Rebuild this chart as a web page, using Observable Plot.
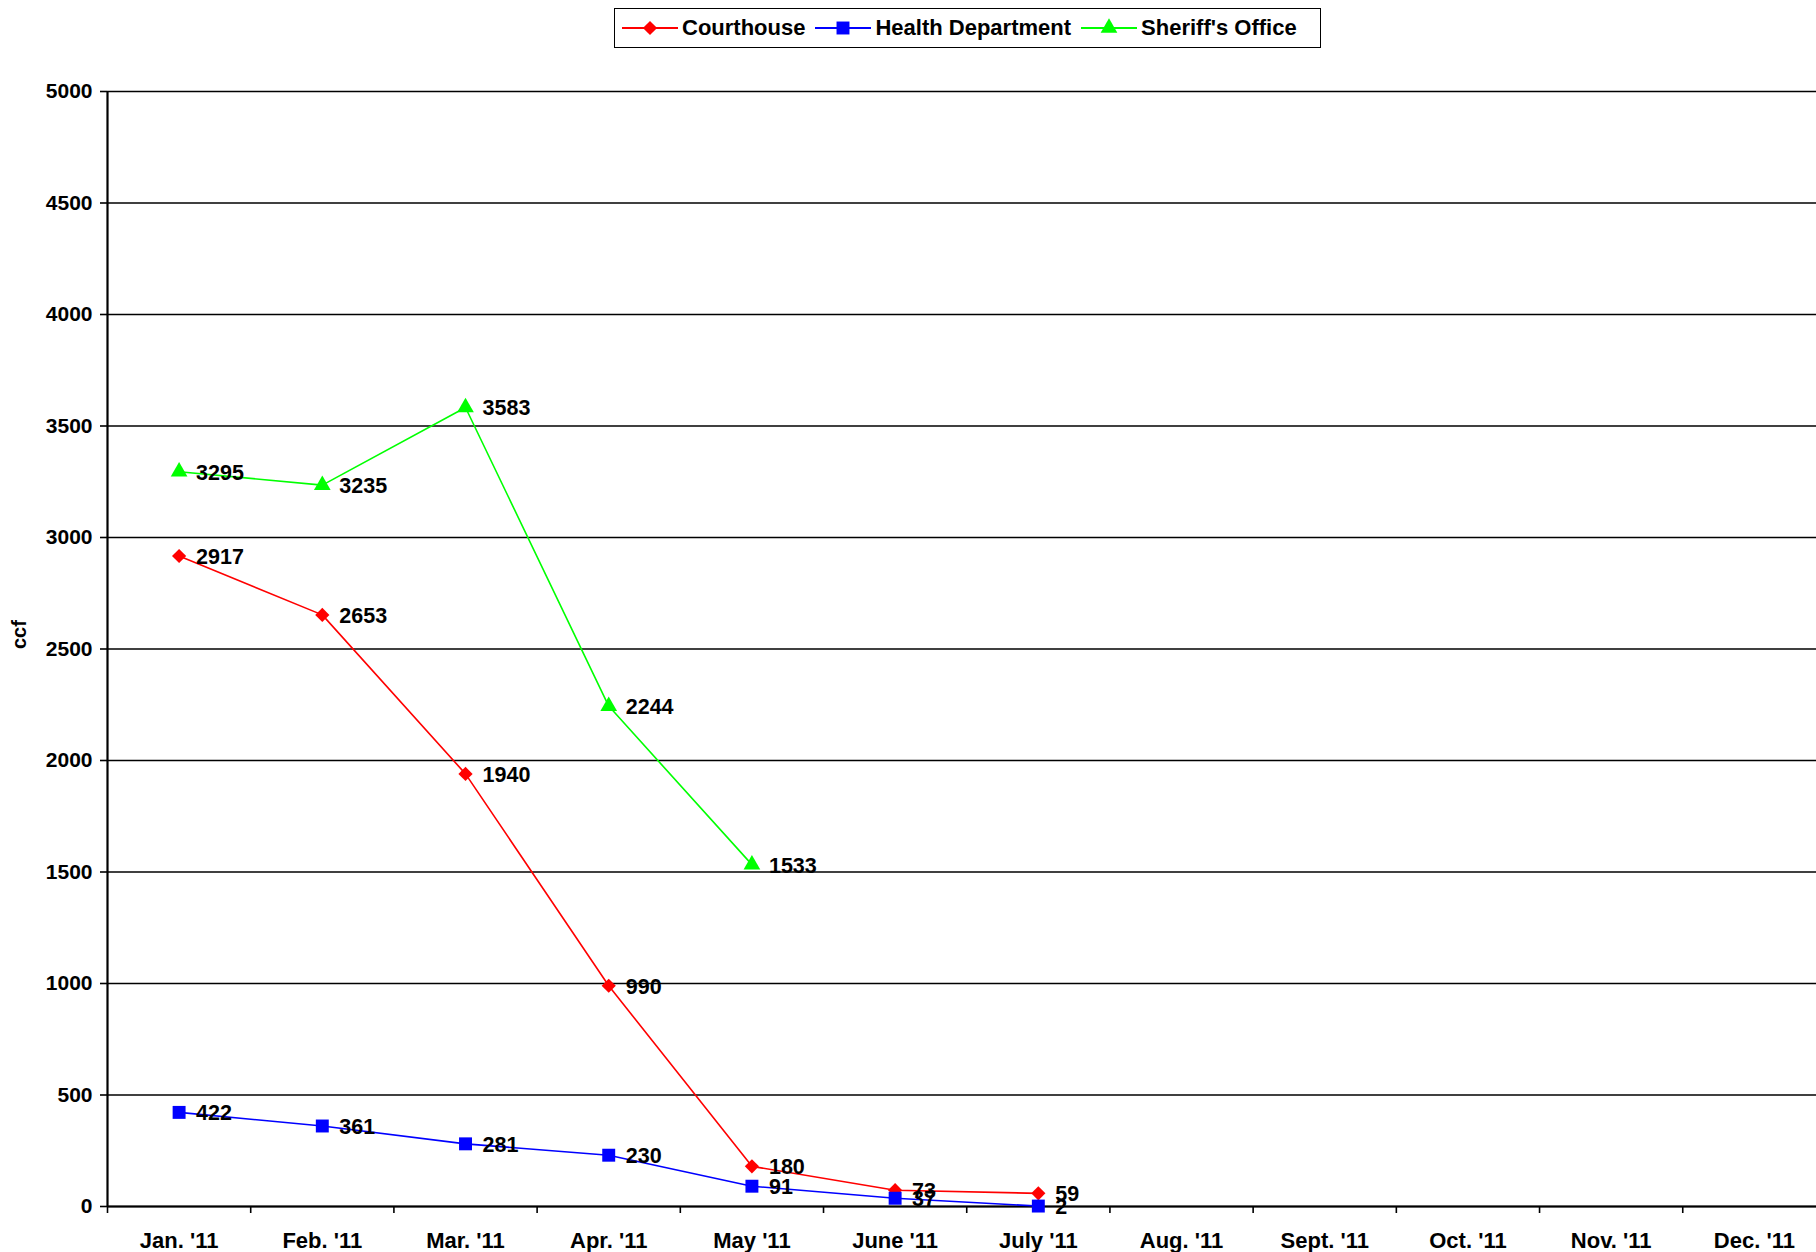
<!DOCTYPE html>
<html>
<head>
<meta charset="utf-8">
<script src="https://cdn.jsdelivr.net/npm/d3@7"></script>
<script src="https://cdn.jsdelivr.net/npm/@observablehq/plot@0.6"></script>
<style>
  html, body { margin: 0; padding: 0; background: #fff; }
  body { width: 1816px; height: 1252px; position: relative; overflow: hidden; font-family: "Liberation Sans", Arial, sans-serif; }
  #legend { position: absolute; left: 614px; top: 8px; width: 698px; height: 38px; border: 1.5px solid #000; display: flex; align-items: center; padding-left: 7px; box-sizing: content-box; }
  .item { display: flex; align-items: center; margin-right: 10px; }
  .item span { font-weight: bold; font-size: 22px; margin-left: 4px; color: #000; }
  #chart { position: absolute; left: 0; top: 55px; }
</style>
</head>
<body>
<div id="legend"></div>
<div id="chart"></div>
<script>
const months = ["Jan. '11", "Feb. '11", "Mar. '11", "Apr. '11", "May '11", "June '11", "July '11", "Aug. '11", "Sept. '11", "Oct. '11", "Nov. '11", "Dec. '11"];
const seriesNames = ["Courthouse", "Health Department", "Sheriff's Office"];
const courthouse = [2917, 2653, 1940, 990, 180, 73, 59];
const health = [422, 361, 281, 230, 91, 37, 2];
const sheriff = [3295, 3235, 3583, 2244, 1533];
const yTicks = [0, 500, 1000, 1500, 2000, 2500, 3000, 3500, 4000, 4500, 5000];
const colors = ["#ff0000", "#0000ff", "#00ff00"];
const symbols = ["diamond2", "square", "triangle"];
const symbolR = [6.4, 7.3, 6.2];

const toRows = (vals, s) => vals.map((v, i) => ({month: months[i], pos: i + 0.5, value: v, series: s}));
const rowsC = toRows(courthouse, seriesNames[0]);
const rowsH = toRows(health, seriesNames[1]);
const rowsS = toRows(sheriff, seriesNames[2]);
const allRows = [rowsC, rowsH, rowsS];
const xMax = 11.934; // the last band runs a little past the right edge
const boundaries = months.map((m, i) => i);
const centers = months.map((m, i) => i + 0.5);

const font = "'Liberation Sans', Arial, sans-serif";

const marks = [
  Plot.ruleY(yTicks, {stroke: "#000", strokeWidth: 1.4}),
  Plot.ruleX([0], {stroke: "#000", strokeWidth: 2.2}),
  Plot.ruleY([0], {stroke: "#000", strokeWidth: 2.2}),
  Plot.axisY({ticks: yTicks, tickSize: 7, tickPadding: 8, tickFormat: d => String(d), label: null, fontSize: 21, fontWeight: "bold", stroke: "#000", strokeWidth: 1.6}),
  Plot.axisX({ticks: boundaries, tickSize: 7, tickFormat: () => "", label: null, strokeWidth: 1.6}),
  Plot.axisX({ticks: centers, tickSize: 0, tickPadding: 26, tickFormat: d => months[Math.round(d - 0.5)], label: null, fontSize: 22, fontWeight: "bold"}),
  Plot.text(["ccf"], {frameAnchor: "left", rotate: -90, dx: -88, fontSize: 20, fontWeight: "bold", fill: "#000"})
];
allRows.forEach((rows, k) => {
  marks.push(Plot.line(rows, {x: "pos", y: "value", stroke: colors[k], strokeWidth: 1.6}));
});
allRows.forEach((rows, k) => {
  marks.push(Plot.dot(rows, {x: "pos", y: "value", symbol: () => symbols[k], r: symbolR[k], fill: colors[k], stroke: "none"}));
});
allRows.forEach((rows, k) => {
  marks.push(Plot.text(rows, {x: "pos", y: "value", text: d => String(d.value), dx: 17, dy: 1, textAnchor: "start", fontSize: 21.5, fontWeight: "bold", fill: "#000"}));
});

const chart = Plot.plot({
  width: 1816,
  height: 1197,
  marginTop: 36,
  marginBottom: 46,
  marginLeft: 107,
  marginRight: 0,
  style: {fontFamily: font, background: "#fff", color: "#000"},
  x: {type: "linear", domain: [0, xMax]},
  y: {domain: [0, 5000]},
  symbol: {type: "identity"},
  marks
});
document.getElementById("chart").appendChild(chart);

// Legend
const legend = document.getElementById("legend");
seriesNames.forEach((name, k) => {
  const item = document.createElement("div");
  item.className = "item";
  const w = 56, h = 22;
  const sym = d3.symbol().type([d3.symbolDiamond2, d3.symbolSquare, d3.symbolTriangle][k]).size(Math.PI * symbolR[k] * symbolR[k]);
  item.innerHTML = `<svg width="${w}" height="${h}"><line x1="0" x2="${w}" y1="${h/2}" y2="${h/2}" stroke="${colors[k]}" stroke-width="1.8"/><path transform="translate(${w/2},${h/2})" d="${sym()}" fill="${colors[k]}"/></svg><span>${name}</span>`;
  legend.appendChild(item);
});
</script>
</body>
</html>
